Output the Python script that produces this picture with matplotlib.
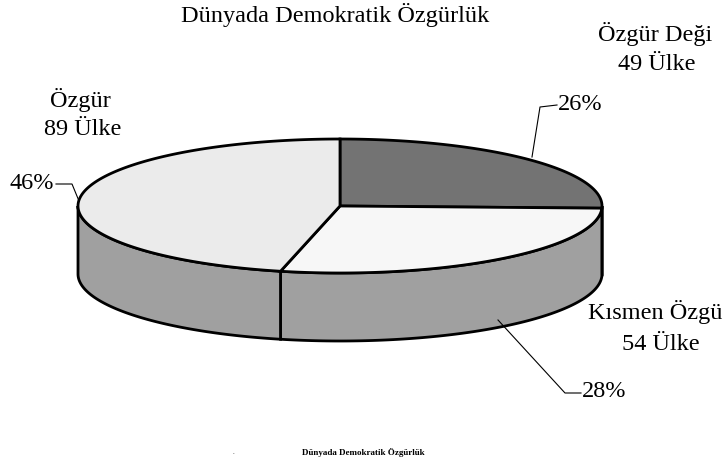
import numpy as np
import matplotlib
matplotlib.use("Agg")
import matplotlib.pyplot as plt
from matplotlib.patches import Polygon

# ---- data ----
title = "Dünyada Demokratik Özgürlük"
categories = ["Özgür Değil", "Kısmen Özgür", "Özgür"]
counts = [49, 54, 89]
pct_labels = ["26%", "28%", "46%"]
name_lines = [("Özgür Deği", "49 Ülke"), ("Kısmen Özgü", "54 Ülke"), ("Özgür", "89 Ülke")]

# ---- style ----
top_colors = ["#737373", "#f7f7f7", "#ebebeb"]
side_colors = ["#8c8c8c", "#a0a0a0", "#a0a0a0"]
FONT = ["Liberation Serif", "DejaVu Serif"]
FS = 17.5

W, H = 726, 465
fig = plt.figure(figsize=(W / 100, H / 100), dpi=100)
ax = fig.add_axes([0, 0, 1, 1])
ax.set_xlim(0, W)
ax.set_ylim(H, 0)
ax.axis("off")

cx, cy, a, b, depth = 340, 206, 262, 67, 68

def pt(t, dz=0):
    r = np.radians(t)
    return cx + a * np.cos(r), cy - b * np.sin(r) + dz

total = sum(counts)
angles = []
start = 90.0
for c in counts:
    end = start - c / total * 360.0
    angles.append((start, end))
    start = end

# sides (front half: angles between -180 and 0)
for (s, e), col in zip(angles, side_colors):
    lo, hi = e, s
    for shift in (0, 360, -360):
        l2, h2 = max(lo + shift, -180), min(hi + shift, 0)
        if h2 > l2:
            ts = np.linspace(h2, l2, 120)
            topx, topy = pt(ts)
            botx, boty = pt(ts[::-1], depth)
            xs = np.concatenate([topx, botx])
            ys = np.concatenate([topy, boty])
            ax.add_patch(Polygon(np.column_stack([xs, ys]), closed=True,
                                 facecolor=col, edgecolor="black", lw=2, zorder=2))

# tops
for (s, e), col in zip(angles, top_colors):
    ts = np.linspace(s, e, 200)
    x, y = pt(ts)
    xs = np.concatenate([[cx], x])
    ys = np.concatenate([[cy], y])
    ax.add_patch(Polygon(np.column_stack([xs, ys]), closed=True,
                         facecolor=col, edgecolor="black", lw=2, zorder=3))

# title
ax.text(335, 15, title, ha="center", va="center", fontsize=FS, family=FONT)

# category labels
ax.text(598, 34, name_lines[0][0], ha="left", va="center", fontsize=FS, family=FONT)
ax.text(657, 65, name_lines[0][1], ha="center", va="center", fontsize=FS, family=FONT)
ax.text(588, 312, name_lines[1][0], ha="left", va="center", fontsize=FS, family=FONT)
ax.text(661, 344, name_lines[1][1], ha="center", va="center", fontsize=FS, family=FONT)
ax.text(80, 100, name_lines[2][0], ha="center", va="center", fontsize=FS, family=FONT)
ax.text(83, 129, name_lines[2][1], ha="center", va="center", fontsize=FS, family=FONT)

# percentage labels with leader lines
ax.plot([532, 540, 557], [157, 107, 105], color="black", lw=0.8, zorder=4)
ax.text(558, 104, pct_labels[0], ha="left", va="center", fontsize=FS, family=FONT)
ax.plot([498, 565, 581], [320, 393, 393], color="black", lw=0.8, zorder=4)
ax.text(582, 391, pct_labels[1], ha="left", va="center", fontsize=FS, family=FONT)
ax.plot([79, 72, 56], [201, 184, 184], color="black", lw=0.8, zorder=4)
ax.text(54, 183, pct_labels[2], ha="right", va="center", fontsize=FS, family=FONT)

# tiny footer
ax.text(363, 452, title, ha="center", va="center", fontsize=6.5, fontweight="bold", family=FONT)
ax.text(233, 452, ".", ha="center", va="center", fontsize=5, family=FONT)

fig.savefig("out.png", dpi=100)
